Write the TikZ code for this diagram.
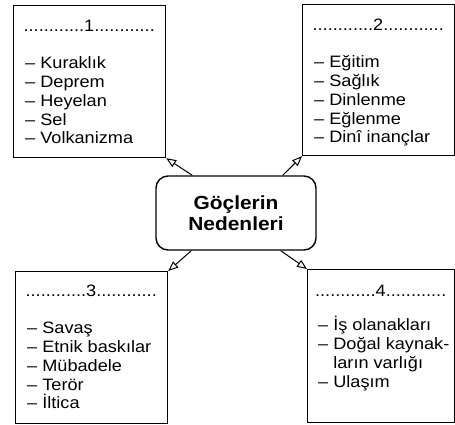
\documentclass[tikz,border=0pt]{standalone}
\usepackage{fontspec}
\setmainfont{Liberation Sans}[FakeStretch=1.1]
\usetikzlibrary{arrows.meta, positioning}

\begin{document}
\begin{tikzpicture}[
    x=1pt, y=-1pt,
    panel/.style={draw, line width=1.2pt, minimum width=152pt, minimum height=152pt, anchor=north west, inner sep=0},
    plist/.style={inner sep=0, align=left, font=\fontsize{16.5}{18.75}\selectfont},
    hub/.style={draw, line width=1.4pt, rounded corners=12pt, minimum width=160pt, minimum height=74pt, align=center, font=\fontsize{19}{20.5}\selectfont\bfseries},
    link/.style={-{Triangle[open, length=10pt, width=8pt]}, line width=1pt}
]
\useasboundingbox (0,0) rectangle (455,424);

% Centre
\node[hub] (c) at (236,213) {Göçlerin\\Nedenleri};

% Boxes
\node[panel] (b1) at (13,5) {};
\node[panel, minimum height=151pt] (b2) at (302,4) {};
\node[panel] (b3) at (15,271) {};
\node[panel, minimum width=147pt, minimum height=153pt] (b4) at (307,269) {};

\node[plist, below right=15pt and 12pt of b1.north west] (t1) {%
    \makebox[128pt]{............1............}\\[18.5pt]
    – Kuraklık\\ – Deprem\\ – Heyelan\\ – Sel\\ – Volkanizma};
\node[plist, below right=15pt and 12pt of b2.north west] (t2) {%
    \makebox[128pt]{............2............}\\[18.5pt]
    – Eğitim\\ – Sağlık\\ – Dinlenme\\ – Eğlenme\\ – Dinî inançlar};
\node[plist, below right=14pt and 12pt of b3.north west] (t3) {%
    \makebox[128pt]{............3............}\\[18.5pt]
    – Savaş\\ – Etnik baskılar\\ – Mübadele\\ – Terör\\ – İltica};
\node[plist, below right=16pt and 11pt of b4.north west] (t4) {%
    \makebox[125pt]{............4............}\\[15.5pt]
    – İş olanakları\\ – Doğal kaynak-\\ \phantom{– }ların varlığı\\ – Ulaşım};

% Arrows
\draw[link] ([xshift=37pt]c.north west) -- (b1.south east);
\draw[link] ([xshift=-34pt]c.north east) -- (b2.south west);
\draw[link] ([xshift=36pt]c.south west) -- (b3.north east);
\draw[link] ([xshift=-36pt]c.south east) -- (b4.north west);
\end{tikzpicture}
\end{document}
